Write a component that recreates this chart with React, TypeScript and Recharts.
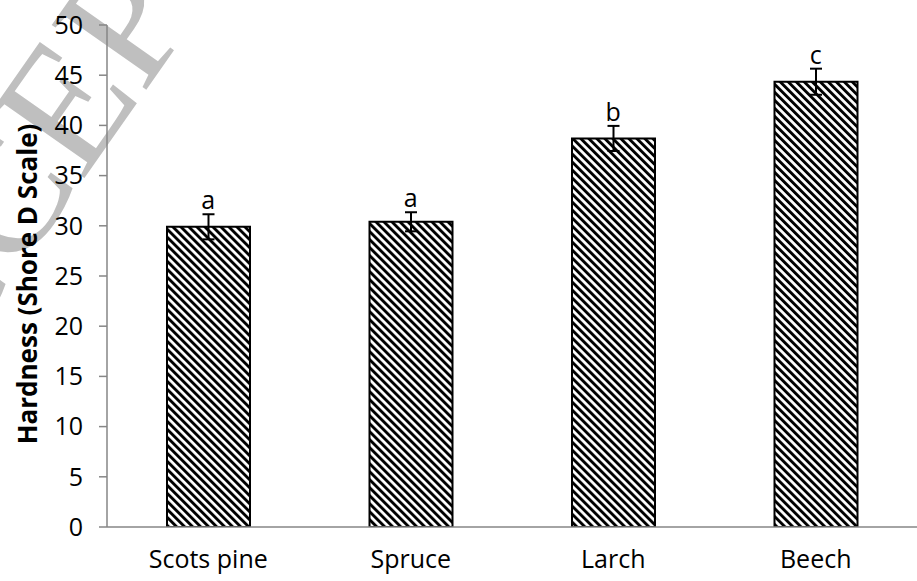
import React from 'react';
import { ComposedChart, Bar, Line, XAxis, YAxis, ErrorBar, LabelList, Label } from 'recharts';

const categories = ['Scots pine', 'Spruce', 'Larch', 'Beech'];
const hardness = [29.9, 30.4, 38.7, 44.35];
const errors = [1.25, 0.95, 1.25, 1.3];
const letters = ['a', 'a', 'b', 'c'];
const yTicks = [0, 5, 10, 15, 20, 25, 30, 35, 40, 45, 50];
const boundaryTicks = [0, 1, 2, 3, 4];
const yTitle = 'Hardness (Shore D Scale)';

const data = categories.map((name, i) => ({
  name,
  pos: i + 0.5,
  hardness: hardness[i],
  err: errors[i],
  top: hardness[i] + errors[i],
  letter: letters[i],
}));

const AXIS = '#868686';
const FONT = '"Open Sans", "Noto Sans", sans-serif';

const YTitle = (props: any) => {
  const vb = props.viewBox || { x: 0, y: 0, width: 0, height: 0 };
  const cx = vb.x + 27;
  const cy = vb.y + vb.height / 2 + 8;
  return (
    <text
      x={cx}
      y={cy}
      transform={`rotate(-90, ${cx}, ${cy})`}
      textAnchor="middle"
      dominantBaseline="central"
      fontFamily={FONT}
      fontWeight={700}
      fontSize={26}
      fill="#000"
    >
      {yTitle}
    </text>
  );
};

export default function App() {
  return (
    <div style={{ position: 'absolute', left: 0, top: 0, width: 917, height: 581, background: '#fff', overflow: 'hidden', fontFamily: FONT }}>
      <svg width={917} height={581} style={{ position: 'absolute', left: 0, top: 0 }}>
        <defs>
          <pattern id="hatch" patternUnits="userSpaceOnUse" width={5.66} height={5.66} patternTransform="rotate(-45)">
            <rect x={0} y={0} width={5.66} height={5.66} fill="#ffffff" />
            <rect x={0} y={0} width={2.9} height={5.66} fill="#000000" />
          </pattern>
        </defs>
        <text
          x={-125}
          y={477}
          transform="rotate(-55, -125, 477)"
          fontFamily='"Liberation Serif", "DejaVu Serif", serif'
          fontSize={175}
          fill="#bfbfbf"
        >
          ACCEPTED MANUSCRIPT
        </text>
      </svg>
      <div style={{ position: 'absolute', left: 0, top: 0 }}>
        <ComposedChart width={917} height={581} data={data} margin={{ top: 25, right: 0, left: 0, bottom: 0 }}>
          <XAxis
            xAxisId="grid"
            type="number"
            dataKey="pos"
            domain={[0, 4]}
            ticks={boundaryTicks}
            allowDataOverflow
            height={0}
            axisLine={false}
            tickSize={9}
            tickLine={{ stroke: AXIS, strokeWidth: 1.5 }}
            tickFormatter={() => ''}
            interval={0}
          />
          <XAxis
            xAxisId="cat"
            dataKey="name"
            type="category"
            height={54}
            tickLine={false}
            axisLine={{ stroke: AXIS, strokeWidth: 1.5 }}
            tick={{ fill: '#000', fontSize: 25, fontFamily: FONT }}
            tickMargin={17}
            interval={0}
          />
          <YAxis
            yAxisId="y"
            type="number"
            domain={[0, 50]}
            ticks={yTicks}
            allowDataOverflow
            width={107}
            tickSize={8}
            tickMargin={16}
            interval={0}
            axisLine={{ stroke: AXIS, strokeWidth: 1.5 }}
            tickLine={{ stroke: AXIS, strokeWidth: 1.5 }}
            tick={{ fill: '#000', fontSize: 25, fontFamily: FONT }}
          >
            <Label value={yTitle} content={<YTitle />} />
          </YAxis>
          <Bar
            xAxisId="cat"
            yAxisId="y"
            dataKey="hardness"
            barSize={83}
            fill="url(#hatch)"
            stroke="#000"
            strokeWidth={2}
            isAnimationActive={false}
          >
            <ErrorBar dataKey="err" width={6} stroke="#000" strokeWidth={2} isAnimationActive={false} />
          </Bar>
          <Line
            xAxisId="cat"
            yAxisId="y"
            dataKey="top"
            stroke="none"
            dot={false}
            activeDot={false}
            legendType="none"
            isAnimationActive={false}
          >
            <LabelList dataKey="letter" position="top" offset={5} fill="#000" fontSize={25} fontFamily={FONT} />
          </Line>
        </ComposedChart>
      </div>
    </div>
  );
}
